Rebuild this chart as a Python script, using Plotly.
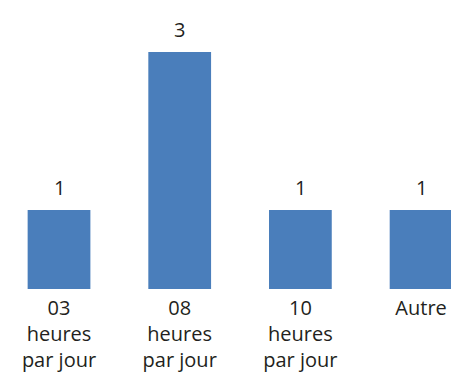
import plotly.graph_objects as go

categories = ["03<br>heures<br>par jour", "08<br>heures<br>par jour", "10<br>heures<br>par jour", "Autre"]
values = [1, 3, 1, 1]

FONT = "Open Sans"
fig = go.Figure()
fig.add_trace(go.Bar(
    x=list(range(len(categories))), y=values,
    marker=dict(color="#4a7ebb", line=dict(width=0)),
    width=0.52,
))
for i, v in enumerate(values):
    fig.add_annotation(x=i, y=v, text=str(v), showarrow=False, yanchor="bottom",
                       yshift=7, font=dict(family=FONT, size=20, color="#231f20"))

fig.update_layout(
    width=451, height=372,
    margin=dict(l=0, r=0, t=0, b=83, autoexpand=False),
    paper_bgcolor="white", plot_bgcolor="white",
    showlegend=False,
    font=dict(family=FONT, size=20, color="#231f20"),
    xaxis=dict(range=[-0.489, 3.248], tickmode="array", tickvals=list(range(len(categories))),
               ticktext=categories, showgrid=False, zeroline=False, showline=False,
               automargin=False,
               ticks="", ticklabelstandoff=5, tickfont=dict(family=FONT, size=20, color="#231f20")),
    yaxis=dict(range=[0, 3.658], visible=False, automargin=False),
)
fig.write_html("out.html", config={"displayModeBar": False},
               post_script="document.body.style.margin='0';document.body.style.overflow='hidden';")
